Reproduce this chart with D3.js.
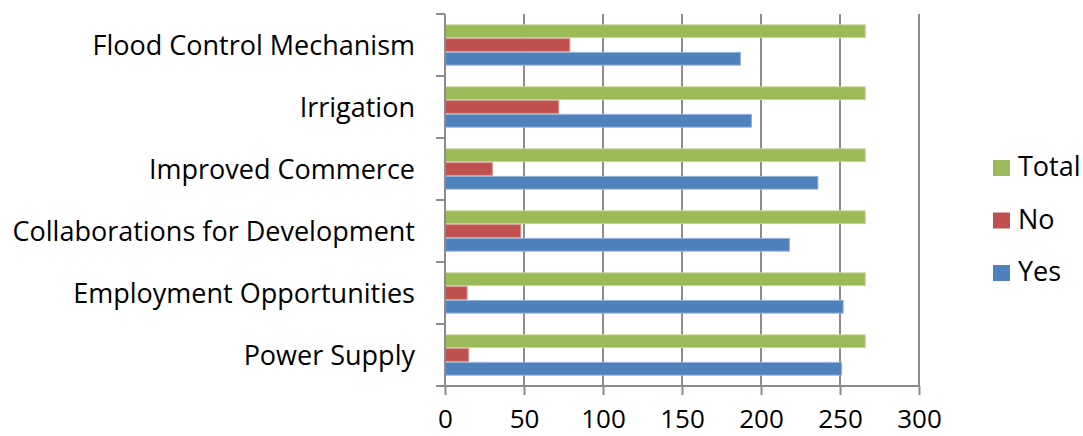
<!DOCTYPE html>
<html>
<head>
<meta charset="utf-8">
<script src="https://cdn.jsdelivr.net/npm/d3@7"></script>
<style>
  body { margin: 0; background: #fff; }
  svg { display: block; }
  text { font-family: "Open Sans", Lato, sans-serif; fill: #000; }
</style>
</head>
<body>
<svg id="chart" width="1083" height="436"></svg>
<script>
const categories = ["Flood Control Mechanism", "Irrigation", "Improved Commerce",
  "Collaborations for Development", "Employment Opportunities", "Power Supply"];
const seriesNames = ["Total", "No", "Yes"];
const totalValues = [266, 266, 266, 266, 266, 266];
const noValues = [79, 72, 30, 48, 14, 15];
const yesValues = [187, 194, 236, 218, 252, 251];
const xTicks = [0, 50, 100, 150, 200, 250, 300];
const colors = { Total: "#9BBB59", No: "#C0504D", Yes: "#4F81BD" };
const strokes = { Total: "#C3D69B", No: "#D99694", Yes: "#95B3D7" };

const seriesValues = { Total: totalValues, No: noValues, Yes: yesValues };
const data = categories.map((c, i) => ({
  cat: c,
  vals: seriesNames.map(s => ({ s, v: seriesValues[s][i] }))
}));

const svg = d3.select("#chart");
const mLeft = 445, mRight = 919, mTop = 14, mBottom = 386;
const gridColor = "#8C8C8C";
const fontFam = "'Open Sans', Lato, sans-serif";
const fs = 27;

const x = d3.scaleLinear().domain([0, 300]).range([mLeft, mRight]);
const y = d3.scaleBand().domain(categories).range([mTop, mBottom]).padding(0);
const inner = d3.scaleBand().domain(seriesNames)
  .range([y.bandwidth() / 6, y.bandwidth() * 5 / 6]).padding(0);

// gridlines
svg.append("g").selectAll("line").data(xTicks.slice(1)).join("line")
  .attr("x1", d => x(d)).attr("x2", d => x(d))
  .attr("y1", mTop).attr("y2", mBottom)
  .attr("stroke", gridColor).attr("stroke-width", 2);

// bars
const groups = svg.append("g").selectAll("g").data(data).join("g")
  .attr("transform", d => `translate(0,${y(d.cat)})`);
groups.selectAll("rect").data(d => d.vals).join("rect")
  .attr("x", x(0))
  .attr("y", d => inner(d.s) + 0.5)
  .attr("width", d => x(d.v) - x(0))
  .attr("height", inner.bandwidth() - 1)
  .attr("fill", d => colors[d.s])
  .attr("stroke", d => strokes[d.s])
  .attr("stroke-width", 1);

// x axis
const xAxis = d3.axisBottom(x).tickValues(xTicks).tickSize(9).tickPadding(0)
  .tickFormat(d3.format("d"));
const gx = svg.append("g").attr("transform", `translate(0,${mBottom})`).call(xAxis);
gx.select(".domain").attr("stroke", gridColor).attr("stroke-width", 2)
  .attr("d", `M${mLeft},0H${mRight}`);
gx.selectAll(".tick line").attr("stroke", gridColor).attr("stroke-width", 2);
gx.selectAll(".tick text").style("font-size", "26px").style("font-family", fontFam)
  .attr("fill", "#000").attr("y", 42).attr("dy", null);

// y axis line and ticks at band boundaries
const boundaries = categories.map(c => y(c)).concat([mBottom]);
svg.append("line").attr("x1", mLeft).attr("x2", mLeft).attr("y1", mTop).attr("y2", mBottom)
  .attr("stroke", gridColor).attr("stroke-width", 2);
svg.append("g").selectAll("line").data(boundaries).join("line")
  .attr("x1", mLeft - 9).attr("x2", mLeft).attr("y1", d => d).attr("y2", d => d)
  .attr("stroke", gridColor).attr("stroke-width", 2);

// category labels
svg.append("g").selectAll("text").data(categories).join("text")
  .attr("x", 415).attr("y", d => y(d) + y.bandwidth() / 2 + 9.5)
  .attr("text-anchor", "end")
  .style("font-size", fs + "px")
  .text(d => d);

// legend
const legend = svg.append("g").selectAll("g").data(seriesNames).join("g")
  .attr("transform", (d, i) => `translate(993,${160 + i * 52.5})`);
legend.append("rect").attr("width", 17).attr("height", 16).attr("fill", d => colors[d]);
legend.append("text").attr("x", 25).attr("y", 16)
  .style("font-size", fs + "px").text(d => d);
</script>
</body>
</html>
